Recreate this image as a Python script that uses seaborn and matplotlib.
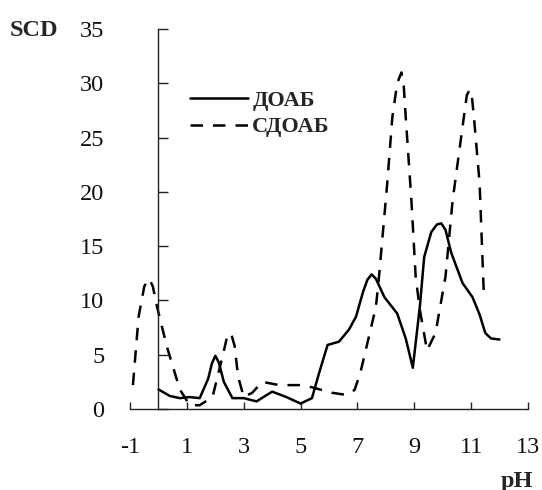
import numpy as np
import pandas as pd
import matplotlib
matplotlib.use('Agg')
import matplotlib.pyplot as plt
import seaborn as sns

# ---- data ----
doab_ph = [0.0, 0.4, 0.75, 1.1, 1.45, 1.75, 1.88, 2.0, 2.12, 2.3, 2.6, 3.0,
           3.45, 4.0, 4.5, 5.0, 5.4, 5.65, 5.95, 6.35, 6.7, 6.95, 7.2, 7.35,
           7.5, 7.65, 7.95, 8.4, 8.7, 8.95, 9.2, 9.35, 9.6, 9.8, 9.95, 10.1,
           10.3, 10.7, 11.05, 11.3, 11.5, 11.7, 12.0]
doab_scd = [1.8, 1.2, 1.0, 1.1, 1.0, 2.8, 4.2, 4.9, 4.3, 2.5, 1.0, 1.0,
            0.7, 1.6, 1.1, 0.5, 1.0, 3.3, 5.9, 6.2, 7.3, 8.5, 10.8, 11.9,
            12.4, 12.0, 10.3, 8.8, 6.5, 3.8, 9.5, 14.0, 16.3, 17.0, 17.1, 16.5,
            14.4, 11.6, 10.3, 8.7, 7.0, 6.5, 6.4]

sdoab_ph = [-0.9, -0.7, -0.5, -0.33, -0.2, -0.05, 0.3, 0.75, 1.1, 1.45, 1.9,
            2.25, 2.4, 2.55, 2.68, 2.8, 3.0, 3.3, 3.65, 4.25, 4.95, 5.4, 6.1,
            6.6, 6.9, 7.1, 7.4, 7.65, 7.75, 8.05, 8.23, 8.4, 8.55, 8.63, 8.7,
            8.9, 9.05, 9.2, 9.45, 9.75, 10.1, 10.35, 10.7, 10.85, 10.95, 11.02,
            11.1, 11.3, 11.45]
sdoab_scd = [2.2, 8.5, 11.3, 12.0, 11.3, 9.4, 5.7, 1.8, 0.35, 0.35, 1.1,
             4.8, 6.5, 7.0, 5.8, 3.0, 1.1, 1.5, 2.5, 2.2, 2.2, 2.0, 1.5,
             1.3, 1.75, 3.3, 6.6, 9.4, 11.9, 20.8, 26.9, 30.0, 31.0, 29.8, 26.9,
             19.2, 12.2, 9.1, 5.4, 7.0, 12.2, 19.2, 26.0, 28.9, 29.4, 29.0,
             26.9, 20.8, 10.5]

series_names = ['ДОАБ', 'СДОАБ']
x_ticks = [-1, 1, 3, 5, 7, 9, 11, 13]
y_ticks = [0, 5, 10, 15, 20, 25, 30, 35]

df = pd.concat([
    pd.DataFrame({'pH': doab_ph, 'SCD': doab_scd, 'series': series_names[0]}),
    pd.DataFrame({'pH': sdoab_ph, 'SCD': sdoab_scd, 'series': series_names[1]}),
], ignore_index=True)

sns.set_style('white')
plt.rcParams['font.family'] = ['Liberation Serif', 'DejaVu Serif']
plt.rcParams['axes.unicode_minus'] = False

fig = plt.figure(figsize=(5.42, 4.9), dpi=100)
ax = fig.add_axes([0.240, 0.1653, 0.734, 0.7755])

sns.lineplot(data=df, x='pH', y='SCD', hue='series', style='series',
             palette={series_names[0]: 'black', series_names[1]: 'black'},
             dashes={series_names[0]: '', series_names[1]: (5, 4)},
             linewidth=1.8, sort=False, ax=ax)
for ln in ax.get_lines():
    ln.set_solid_joinstyle('round')
    ln.set_dash_joinstyle('round')

ax.set_xlim(-1, 13)
ax.set_ylim(0, 35)
ax.set_xticks(x_ticks)
ax.set_yticks(y_ticks)
ax.set_xticklabels([str(t) for t in x_ticks])
ax.set_yticklabels([str(t) for t in y_ticks])
ax.set_xlabel('')
ax.set_ylabel('')

ax.spines['top'].set_visible(False)
ax.spines['right'].set_visible(False)
ax.spines['left'].set_position(('data', 0))
for s in ('left', 'bottom'):
    ax.spines[s].set_color('#222222')
    ax.spines[s].set_linewidth(1.0)

ax.tick_params(axis='y', direction='in', length=7, width=1.0, color='#222222',
               pad=39, labelsize=17.5, left=True, labelcolor='#111111')
ax.tick_params(axis='x', direction='in', length=5, width=1.0, color='#222222',
               pad=20, labelsize=17.5, bottom=True, labelcolor='#111111')
for lab in ax.get_yticklabels():
    lab.set_horizontalalignment('right')

handles, labels = ax.get_legend_handles_labels()
ax.legend(handles, labels, loc='upper left',
          bbox_to_anchor=(190 / 542, (490 - 90) / 490),
          bbox_transform=fig.transFigure, frameon=False,
          prop={'family': 'Liberation Serif', 'weight': 'bold', 'size': 16},
          handlelength=2.6, handletextpad=0.2, labelspacing=0.28,
          borderpad=0, borderaxespad=0)

fig.text(10 / 542, (490 - 30) / 490, 'SCD', fontsize=17.5, fontweight='bold',
         ha='left', va='center')
fig.text(533 / 542, (490 - 481) / 490, 'pH', fontsize=17.5, fontweight='bold',
         ha='right', va='center')

fig.savefig('out.png', dpi=100)
